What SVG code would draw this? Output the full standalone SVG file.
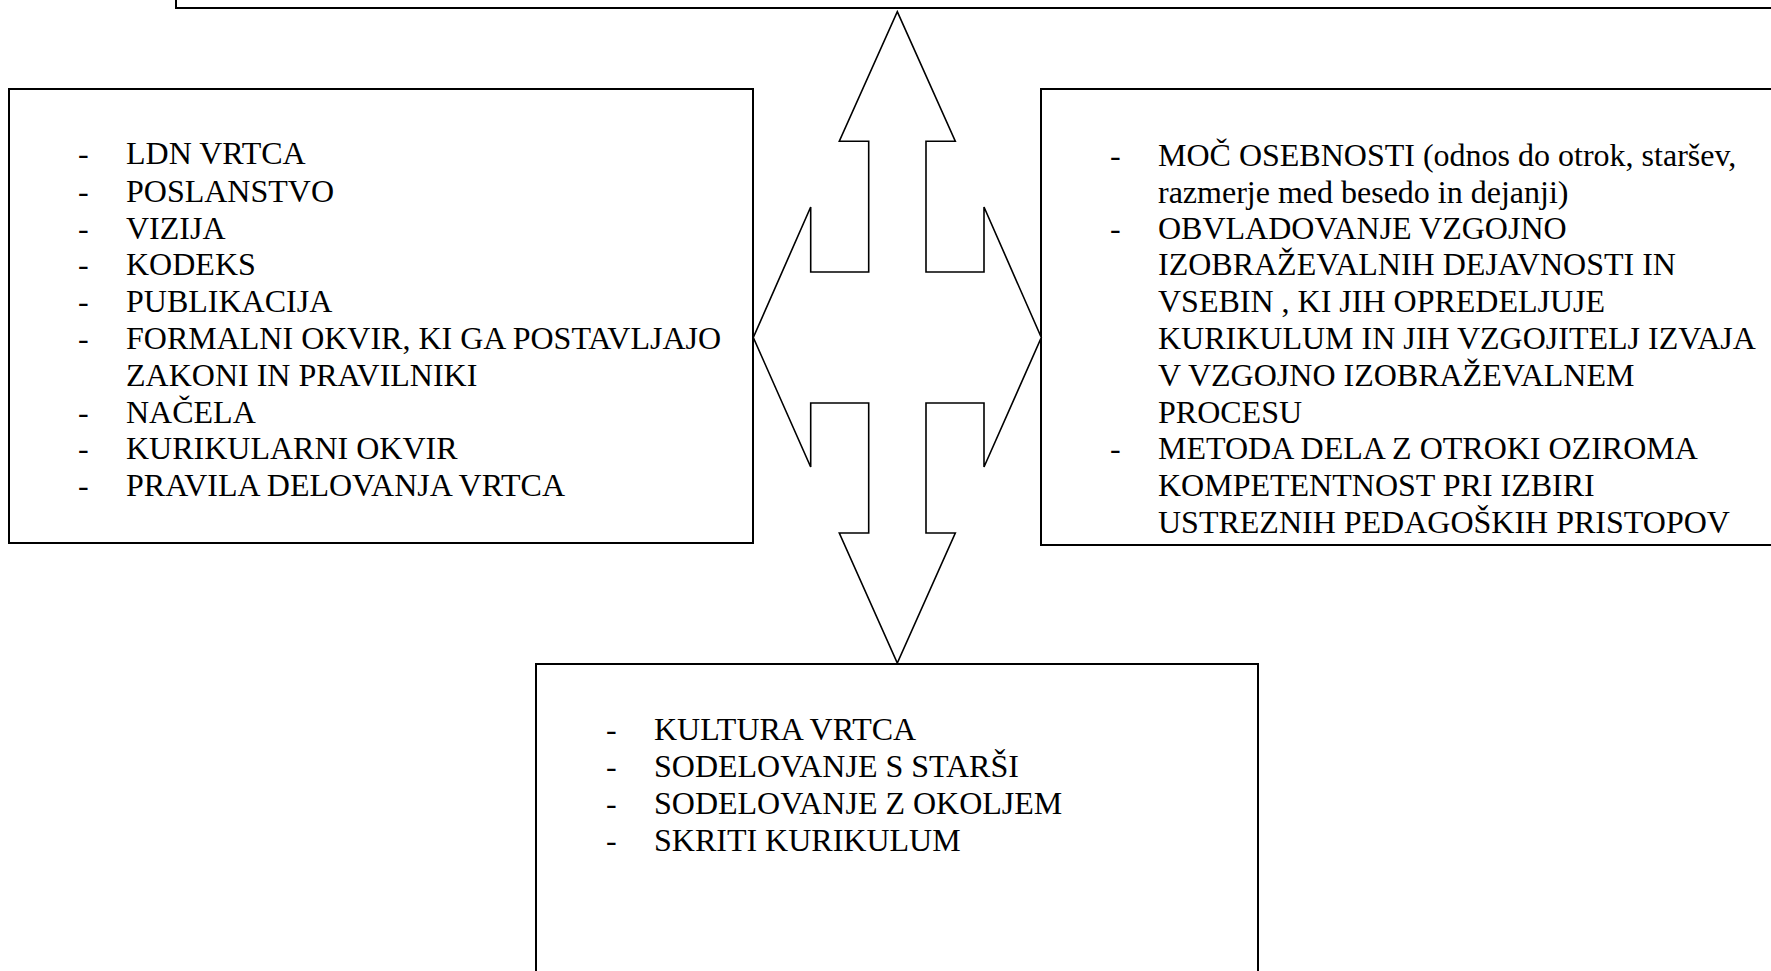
<svg xmlns="http://www.w3.org/2000/svg" width="1771" height="971" viewBox="0 0 1771 971">
<style>
.box{fill:#fff;stroke:#000;stroke-width:2}
.arrow{fill:#fff;stroke:#000;stroke-width:1.6;stroke-linejoin:miter}
text{font-family:"Liberation Serif","Times New Roman",serif;font-size:32px;fill:#000}
</style>
<rect x="0" y="0" width="1771" height="971" fill="#fff"/>
<g id="top-box">
<rect class="box" x="176" y="-20" width="1640" height="28"/>
</g>
<g id="left-box">
<rect class="box" x="9" y="89" width="744" height="454"/>
<text x="78" y="164">-</text><text x="126" y="164">LDN VRTCA</text>
<text x="78" y="201.8">-</text><text x="126" y="201.8">POSLANSTVO</text>
<text x="78" y="238.6">-</text><text x="126" y="238.6">VIZIJA</text>
<text x="78" y="275.4">-</text><text x="126" y="275.4">KODEKS</text>
<text x="78" y="312.2">-</text><text x="126" y="312.2">PUBLIKACIJA</text>
<text x="78" y="349">-</text><text x="126" y="349">FORMALNI OKVIR, KI GA POSTAVLJAJO</text>
<text x="126" y="385.8">ZAKONI IN PRAVILNIKI</text>
<text x="78" y="422.6">-</text><text x="126" y="422.6">NAČELA</text>
<text x="78" y="459.4">-</text><text x="126" y="459.4">KURIKULARNI OKVIR</text>
<text x="78" y="496.2">-</text><text x="126" y="496.2">PRAVILA DELOVANJA VRTCA</text>
</g>
<g id="right-box">
<rect class="box" x="1041" y="89" width="800" height="456"/>
<text x="1110" y="166">-</text><text x="1158" y="166">MOČ OSEBNOSTI (odnos do otrok, staršev,</text>
<text x="1158" y="202.5">razmerje med besedo in dejanji)</text>
<text x="1110" y="238.6">-</text><text x="1158" y="238.6">OBVLADOVANJE VZGOJNO</text>
<text x="1158" y="275.4">IZOBRAŽEVALNIH DEJAVNOSTI IN</text>
<text x="1158" y="312.2">VSEBIN , KI JIH OPREDELJUJE</text>
<text x="1158" y="349">KURIKULUM IN JIH VZGOJITELJ IZVAJA</text>
<text x="1158" y="385.8">V VZGOJNO IZOBRAŽEVALNEM</text>
<text x="1158" y="422.6">PROCESU</text>
<text x="1110" y="459.4">-</text><text x="1158" y="459.4">METODA DELA Z OTROKI OZIROMA</text>
<text x="1158" y="496.2">KOMPETENTNOST PRI IZBIRI</text>
<text x="1158" y="533">USTREZNIH PEDAGOŠKIH PRISTOPOV</text>
</g>
<g id="bottom-box">
<rect class="box" x="536" y="664" width="722" height="400"/>
<text x="606" y="740">-</text><text x="654" y="740">KULTURA VRTCA</text>
<text x="606" y="777">-</text><text x="654" y="777">SODELOVANJE S STARŠI</text>
<text x="606" y="814">-</text><text x="654" y="814">SODELOVANJE Z OKOLJEM</text>
<text x="606" y="851">-</text><text x="654" y="851">SKRITI KURIKULUM</text>
</g>
<g id="connectors">
<polygon class="arrow" points="897.3,11.7 955.3,141.2 926,141.2 926,272 984,272 984,207 1041.3,337.5 984,467 984,403 926,403 926,533 955.3,533 897.3,663 839.3,533 868.7,533 868.7,403 810.7,403 810.7,467 753.3,337.5 810.7,207 810.7,272 868.7,272 868.7,141.2 839.3,141.2"/>
</g>
</svg>
